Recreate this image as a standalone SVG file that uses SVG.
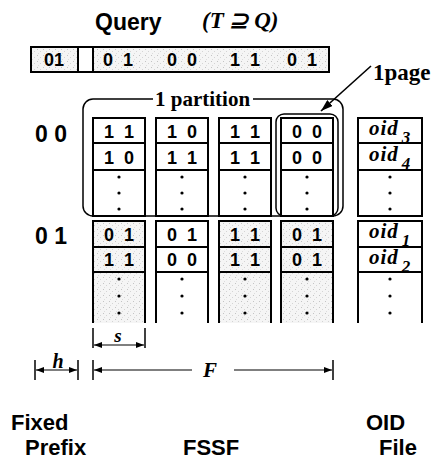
<svg xmlns="http://www.w3.org/2000/svg" width="438" height="460" viewBox="0 0 438 460">
  <defs>
    <!-- light stipple used for the shaded (matching) cells -->
    <pattern id="stipple" width="6" height="6" patternUnits="userSpaceOnUse">
      <rect width="6" height="6" fill="#f5f5f5"/>
      <rect x="1" y="1" width="1" height="1" fill="#c4c4c4"/>
      <rect x="4" y="3" width="1" height="1" fill="#d4d4d4"/>
      <rect x="2" y="5" width="1" height="1" fill="#dcdcdc"/>
    </pattern>
    <marker id="dim" viewBox="0 0 8 6" refX="8" refY="3" markerWidth="8" markerHeight="6" markerUnits="userSpaceOnUse" orient="auto-start-reverse">
      <path d="M0,0 L8,3 L0,6 Z" fill="#000"/>
    </marker>
    <marker id="ptr" viewBox="0 0 12 8" refX="12" refY="4" markerWidth="12" markerHeight="8" markerUnits="userSpaceOnUse" orient="auto">
      <path d="M0,0 L12,4 L0,8 Z" fill="#000"/>
    </marker>
  </defs>
  <style>
    .cell { fill: none; stroke: #000; stroke-width: 2; }
    .shade { fill: url(#stipple); stroke: none; }
    .bits { font-family: "Liberation Sans", Arial, sans-serif; font-weight: bold; font-size: 18px; text-anchor: middle; word-spacing: 5px; fill: #000; }
    .lbl { font-family: "Liberation Sans", Arial, sans-serif; font-weight: bold; font-size: 23px; fill: #000; }
    .cap { font-family: "Liberation Sans", Arial, sans-serif; font-weight: bold; font-size: 22px; fill: #000; }
    .serif { font-family: "Liberation Serif", "Times New Roman", serif; font-weight: bold; fill: #000; }
    .it { font-family: "Liberation Serif", "Times New Roman", serif; font-style: italic; font-weight: bold; fill: #000; }
    .dot { fill: #000; }
    .thin { fill: none; stroke: #000; stroke-width: 1.5; }
  </style>

  <!-- query signature -->
  <g id="query">
    <text class="lbl" x="95" y="30">Query</text>
    <text class="it" x="202" y="28" font-size="23" font-weight="normal">(<tspan>T</tspan> ⊇ <tspan>Q</tspan>)</text>
    <rect class="shade" x="31" y="47" width="47" height="25"/>
    <rect class="shade" x="93" y="47" width="236" height="25"/>
    <rect class="cell" x="31" y="47" width="298" height="25"/>
    <line class="cell" x1="78" y1="47" x2="78" y2="72"/>
    <line class="cell" x1="93" y1="47" x2="93" y2="72"/>
    <text class="bits" x="54" y="66" word-spacing="0">01</text>
    <text class="bits" x="118" y="66">0 1</text>
    <text class="bits" x="182" y="66">0 0</text>
    <text class="bits" x="245" y="66">1 1</text>
    <text class="bits" x="302" y="66">0 1</text>
  </g>

  <!-- fixed prefixes -->
  <g id="prefix-00"><text class="lbl" x="35" y="142">0 0</text></g>
  <g id="prefix-01"><text class="lbl" x="35" y="244">0 1</text></g>

  <!-- FSSF column 1 -->
  <g id="col1">
    <rect class="cell" x="93" y="118" width="52" height="98"/>
    <line class="cell" x1="93" y1="143" x2="145" y2="143"/>
    <line class="cell" x1="93" y1="170" x2="145" y2="170"/>
    <text class="bits" x="119" y="138">1 1</text>
    <text class="bits" x="119" y="164">1 0</text>
    <circle class="dot" cx="119" cy="177" r="1.6"/><circle class="dot" cx="119" cy="193" r="1.6"/><circle class="dot" cx="119" cy="209" r="1.6"/>
    <rect class="shade" x="93" y="221" width="52" height="102"/>
    <path class="cell" d="M93,323 V221 H145 V323 M93,247 H145 M93,272 H145"/>
    <text class="bits" x="119" y="241">0 1</text>
    <text class="bits" x="119" y="266">1 1</text>
    <circle class="dot" cx="119" cy="279" r="1.6"/><circle class="dot" cx="119" cy="296" r="1.6"/><circle class="dot" cx="119" cy="313" r="1.6"/>
  </g>

  <!-- FSSF column 2 -->
  <g id="col2">
    <rect class="cell" x="156" y="118" width="52" height="98"/>
    <line class="cell" x1="156" y1="143" x2="208" y2="143"/>
    <line class="cell" x1="156" y1="170" x2="208" y2="170"/>
    <text class="bits" x="182" y="138">1 0</text>
    <text class="bits" x="182" y="164">1 1</text>
    <circle class="dot" cx="182" cy="177" r="1.6"/><circle class="dot" cx="182" cy="193" r="1.6"/><circle class="dot" cx="182" cy="209" r="1.6"/>
    <path class="cell" d="M156,323 V221 H208 V323 M156,247 H208 M156,272 H208"/>
    <text class="bits" x="182" y="241">0 1</text>
    <text class="bits" x="182" y="266">0 0</text>
    <circle class="dot" cx="182" cy="279" r="1.6"/><circle class="dot" cx="182" cy="296" r="1.6"/><circle class="dot" cx="182" cy="313" r="1.6"/>
  </g>

  <!-- FSSF column 3 -->
  <g id="col3">
    <rect class="cell" x="219" y="118" width="52" height="98"/>
    <line class="cell" x1="219" y1="143" x2="271" y2="143"/>
    <line class="cell" x1="219" y1="170" x2="271" y2="170"/>
    <text class="bits" x="245" y="138">1 1</text>
    <text class="bits" x="245" y="164">1 1</text>
    <circle class="dot" cx="245" cy="177" r="1.6"/><circle class="dot" cx="245" cy="193" r="1.6"/><circle class="dot" cx="245" cy="209" r="1.6"/>
    <rect class="shade" x="219" y="221" width="52" height="102"/>
    <path class="cell" d="M219,323 V221 H271 V323 M219,247 H271 M219,272 H271"/>
    <text class="bits" x="245" y="241">1 1</text>
    <text class="bits" x="245" y="266">1 1</text>
    <circle class="dot" cx="245" cy="279" r="1.6"/><circle class="dot" cx="245" cy="296" r="1.6"/><circle class="dot" cx="245" cy="313" r="1.6"/>
  </g>

  <!-- FSSF column 4 -->
  <g id="col4">
    <rect class="cell" x="281" y="118" width="52" height="98"/>
    <line class="cell" x1="281" y1="143" x2="333" y2="143"/>
    <line class="cell" x1="281" y1="170" x2="333" y2="170"/>
    <text class="bits" x="307" y="138">0 0</text>
    <text class="bits" x="307" y="164">0 0</text>
    <circle class="dot" cx="307" cy="177" r="1.6"/><circle class="dot" cx="307" cy="193" r="1.6"/><circle class="dot" cx="307" cy="209" r="1.6"/>
    <rect class="shade" x="281" y="221" width="52" height="102"/>
    <path class="cell" d="M281,323 V221 H333 V323 M281,247 H333 M281,272 H333"/>
    <text class="bits" x="307" y="241">0 1</text>
    <text class="bits" x="307" y="266">0 1</text>
    <circle class="dot" cx="307" cy="279" r="1.6"/><circle class="dot" cx="307" cy="296" r="1.6"/><circle class="dot" cx="307" cy="313" r="1.6"/>
  </g>

  <!-- OID file -->
  <g id="oid-file">
    <rect class="cell" x="358" y="118" width="64" height="98"/>
    <line class="cell" x1="358" y1="143" x2="422" y2="143"/>
    <line class="cell" x1="358" y1="170" x2="422" y2="170"/>
    <text class="it" x="369" y="135" font-size="21" letter-spacing="1">oid<tspan font-size="17" dx="3" dy="8">3</tspan></text>
    <text class="it" x="369" y="161" font-size="21" letter-spacing="1">oid<tspan font-size="17" dx="3" dy="8">4</tspan></text>
    <circle class="dot" cx="390" cy="177" r="1.6"/><circle class="dot" cx="390" cy="193" r="1.6"/><circle class="dot" cx="390" cy="209" r="1.6"/>
    <path class="cell" d="M358,323 V221 H422 V323 M358,247 H422 M358,272 H422"/>
    <text class="it" x="369" y="238" font-size="21" letter-spacing="1">oid<tspan font-size="17" dx="3" dy="8">1</tspan></text>
    <text class="it" x="369" y="264" font-size="21" letter-spacing="1">oid<tspan font-size="17" dx="3" dy="8">2</tspan></text>
    <circle class="dot" cx="390" cy="279" r="1.6"/><circle class="dot" cx="390" cy="296" r="1.6"/><circle class="dot" cx="390" cy="313" r="1.6"/>
  </g>

  <!-- partition and page outlines -->
  <g id="partition">
    <path class="thin" d="M153,99 H93 A10,10 0 0 0 83,109 V206 A10,10 0 0 0 93,216 H333 A10,10 0 0 0 343,206 V109 A10,10 0 0 0 333,99 H253"/>
    <text class="serif" x="155" y="106" font-size="21">1 partition</text>
  </g>
  <g id="page">
    <rect class="thin" x="276" y="114" width="62" height="102" rx="8"/>
    <text class="serif" x="373" y="80" font-size="23">1page</text>
  </g>

  <!-- connectors: page pointer and dimension lines -->
  <g id="connectors">
    <line x1="371" y1="66" x2="321" y2="111" stroke="#000" stroke-width="1.6" marker-end="url(#ptr)"/>
    <!-- s -->
    <line x1="93" y1="328" x2="93" y2="348" stroke="#000" stroke-width="1.5"/>
    <line x1="145" y1="328" x2="145" y2="348" stroke="#000" stroke-width="1.5"/>
    <line x1="94" y1="345" x2="144" y2="345" stroke="#000" stroke-width="1.2" marker-start="url(#dim)" marker-end="url(#dim)"/>
    <text class="it" x="118" y="342" font-size="19" text-anchor="middle">s</text>
    <!-- h -->
    <line x1="35" y1="360" x2="35" y2="380" stroke="#000" stroke-width="1.5"/>
    <line x1="78" y1="360" x2="78" y2="380" stroke="#000" stroke-width="1.5"/>
    <line x1="36" y1="370" x2="77" y2="370" stroke="#000" stroke-width="1.2" marker-start="url(#dim)" marker-end="url(#dim)"/>
    <text class="it" x="58" y="368" font-size="20" text-anchor="middle">h</text>
    <!-- F -->
    <line x1="93" y1="360" x2="93" y2="380" stroke="#000" stroke-width="1.5"/>
    <line x1="333" y1="360" x2="333" y2="380" stroke="#000" stroke-width="1.5"/>
    <line x1="192" y1="370" x2="94" y2="370" stroke="#000" stroke-width="1.2" marker-end="url(#dim)"/>
    <line x1="234" y1="370" x2="332" y2="370" stroke="#000" stroke-width="1.2" marker-end="url(#dim)"/>
    <text class="it" x="210" y="377" font-size="21" text-anchor="middle">F</text>
  </g>

  <!-- captions -->
  <g id="captions">
    <text class="cap" x="11" y="430">Fixed</text>
    <text class="cap" x="25" y="455">Prefix</text>
    <text class="cap" x="183" y="455">FSSF</text>
    <text class="cap" x="366" y="430">OID</text>
    <text class="cap" x="379" y="455">File</text>
  </g>
</svg>
